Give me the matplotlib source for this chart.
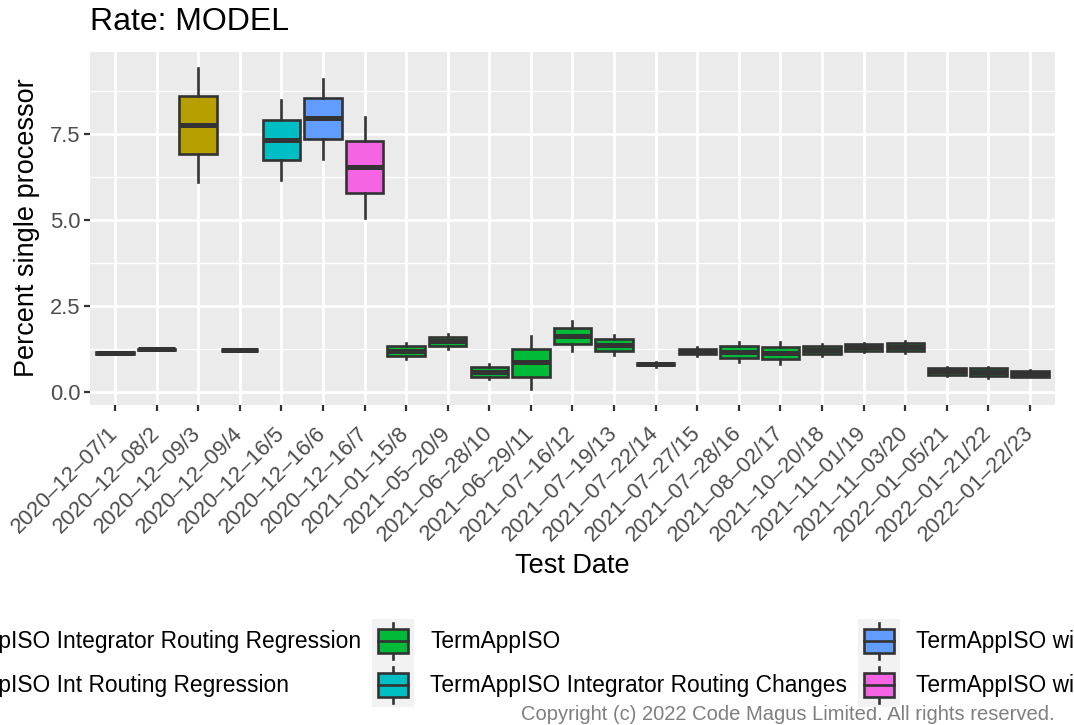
import matplotlib
matplotlib.use("Agg")
import matplotlib.pyplot as plt
from matplotlib.patches import Rectangle, Patch
from matplotlib.lines import Line2D
from matplotlib.legend_handler import HandlerBase

plt.rcParams['font.family'] = ['Liberation Sans', 'DejaVu Sans']

# test dates / run numbers (x categories)
dates = ["2020\u201312\u201307/1", "2020\u201312\u201308/2", "2020\u201312\u201309/3", "2020\u201312\u201309/4",
         "2020\u201312\u201316/5", "2020\u201312\u201316/6", "2020\u201312\u201316/7", "2021\u201301\u201315/8",
         "2021\u201305\u201320/9", "2021\u201306\u201328/10", "2021\u201306\u201329/11", "2021\u201307\u201316/12",
         "2021\u201307\u201319/13", "2021\u201307\u201322/14", "2021\u201307\u201327/15", "2021\u201307\u201328/16",
         "2021\u201308\u201302/17", "2021\u201310\u201320/18", "2021\u201311\u201301/19", "2021\u201311\u201303/20",
         "2022\u201301\u201305/21", "2022\u201301\u201321/22", "2022\u201301\u201322/23"]

# which build each run belongs to (index into group_names)
groups = [0, 0, 1, 0, 3, 4, 5, 2, 2, 2, 2, 2, 2, 2, 2, 2, 2, 2, 2, 2, 2, 2, 2]

# box stats
whislo = [1.11, 1.23, 6.10, 1.21, 6.15, 6.78, 5.05, 0.96, 1.25, 0.38, 0.10, 1.21, 1.07, 0.72, 1.05, 0.87, 0.83, 1.05, 1.16, 1.13, 0.48, 0.42, 0.43]
q1     = [1.12, 1.24, 6.91, 1.22, 6.73, 7.36, 5.78, 1.05, 1.34, 0.45, 0.45, 1.40, 1.21, 0.78, 1.10, 0.99, 0.96, 1.11, 1.20, 1.19, 0.51, 0.47, 0.45]
med    = [1.14, 1.25, 7.75, 1.23, 7.32, 7.95, 6.53, 1.20, 1.48, 0.60, 0.88, 1.64, 1.37, 0.81, 1.19, 1.16, 1.14, 1.24, 1.30, 1.32, 0.61, 0.58, 0.54]
q3     = [1.16, 1.26, 8.59, 1.24, 7.91, 8.53, 7.29, 1.34, 1.61, 0.73, 1.27, 1.88, 1.55, 0.84, 1.27, 1.34, 1.32, 1.35, 1.39, 1.43, 0.71, 0.69, 0.63]
whishi = [1.17, 1.27, 9.41, 1.25, 8.49, 9.09, 8.00, 1.44, 1.68, 0.81, 1.64, 2.07, 1.66, 0.89, 1.31, 1.45, 1.47, 1.41, 1.42, 1.50, 0.73, 0.73, 0.65]

group_names = ["TermAppISO Integrator Routing Regression",
               "TermAppISO Int Routing Regression",
               "TermAppISO",
               "TermAppISO Integrator Routing Changes",
               "TermAppISO with Integrator Routing",
               "TermAppISO with Int Routing Changes"]
group_colors = ["#F8766D", "#B79F00", "#00BA38", "#00BFC4", "#619CFF", "#F564E3"]

y_ticks = [0.0, 2.5, 5.0, 7.5]
y_tick_labels = ["0.0", "2.5", "5.0", "7.5"]
y_minor = [1.25, 3.75, 6.25, 8.75]

W, H = 1074, 725
fig = plt.figure(figsize=(W / 100, H / 100), dpi=100)
ax = fig.add_axes([90 / W, 1 - 405 / H, (1055 - 90) / W, (405 - 52) / H])
ax.set_facecolor('#EBEBEB')
for s in ax.spines.values():
    s.set_visible(False)

stats = []
for i in range(len(dates)):
    stats.append(dict(whislo=whislo[i], q1=q1[i], med=med[i], q3=q3[i], whishi=whishi[i], fliers=[]))

pos = list(range(1, len(dates) + 1))
bp = ax.bxp(stats, positions=pos, widths=0.9, patch_artist=True, showfliers=False, showcaps=False,
            boxprops=dict(edgecolor='#333333', linewidth=1.9),
            medianprops=dict(color='#333333', linewidth=3.6, solid_capstyle='butt'),
            whiskerprops=dict(color='#333333', linewidth=1.9))
for patch, g in zip(bp['boxes'], groups):
    patch.set_facecolor(group_colors[g])

ax.set_xlim(0.4, 23.6)
ax.set_ylim(-0.37, 9.88)
ax.set_yticks(y_ticks)
ax.set_yticklabels(y_tick_labels)
ax.set_yticks(y_minor, minor=True)
ax.set_xticks(pos)
ax.set_xticklabels(dates, rotation=45, ha='right', va='center', rotation_mode='anchor')
ax.set_axisbelow(True)
ax.grid(which='major', color='white', linewidth=2.0)
ax.grid(which='minor', axis='y', color='white', linewidth=1.0)
ax.tick_params(which='major', length=4, width=1.6, color='#333333', labelcolor='#4D4D4D', labelsize=15.8, pad=3)
ax.tick_params(axis='x', which='major', pad=14)
ax.tick_params(which='minor', length=0)

fig.text(90 / W, 1 - 30 / H, "Rate: MODEL", fontsize=23, va='baseline', ha='left')
fig.text(572 / W, 1 - 573 / H, "Test Date", fontsize=19.5, va='baseline', ha='center')
fig.text(27 / W, 1 - 228 / H, "Percent single processor", fontsize=19.5, rotation=90, va='center', ha='center')
fig.text(1055 / W, 1 - 720 / H, "Copyright (c) 2022 Code Magus Limited. All rights reserved.",
         fontsize=14.5, color='#7F7F7F', ha='right', va='baseline')


class BoxKey(HandlerBase):
    def create_artists(self, legend, orig_handle, xdescent, ydescent, width, height, fontsize, trans):
        x0, y0 = -xdescent, -ydescent
        bg = Rectangle((x0, y0), width, height, facecolor='#F2F2F2', edgecolor='none', transform=trans)
        bw, bh = width * 0.72, height * 0.53
        bx = x0 + (width - bw) / 2
        by = y0 + (height - bh) / 2
        cx = x0 + width / 2
        lo = Line2D([cx, cx], [y0 + height * 0.1, by], color='#333333', lw=1.9, transform=trans)
        hi = Line2D([cx, cx], [by + bh, y0 + height * 0.9], color='#333333', lw=1.9, transform=trans)
        box = Rectangle((bx, by), bw, bh, facecolor=orig_handle.get_facecolor(), edgecolor='#333333',
                        lw=1.9, transform=trans)
        mid = Line2D([bx, bx + bw], [by + bh / 2, by + bh / 2], color='#333333', lw=1.9, transform=trans)
        return [bg, lo, hi, box, mid]


handles = [Patch(facecolor=c) for c in group_colors]
leg_y = 1 - 663 / H
leg = fig.legend(handles, group_names, ncol=3, loc='center', bbox_to_anchor=(0.5, leg_y),
                 bbox_transform=fig.transFigure, frameon=False, handler_map={Patch: BoxKey()},
                 handlelength=1.84, handleheight=2.6, labelspacing=0, handletextpad=0.7,
                 columnspacing=0.5, fontsize=16.4, borderpad=0)

# shift legend so the middle column lines up as in the original
fig.canvas.draw()
x_text = leg.get_texts()[2].get_window_extent().x0
dx = (430 - x_text) / W
leg.set_bbox_to_anchor((0.5 + dx, leg_y), transform=fig.transFigure)

fig.savefig("out.png", dpi=100)
